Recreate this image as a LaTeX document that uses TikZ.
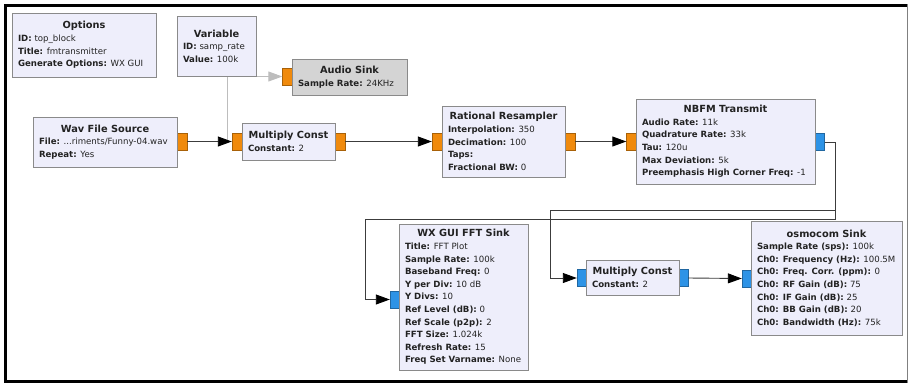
\documentclass[tikz,border=0pt]{standalone}
\usepackage{fontspec}
\setmainfont{DejaVu Sans}
\usetikzlibrary{arrows.meta}
\definecolor{blkfill}{HTML}{EEEEFB}
\definecolor{blkdraw}{HTML}{8A8A8A}
\definecolor{dblkfill}{HTML}{D4D4D4}
\definecolor{fport}{HTML}{F08A0C}
\definecolor{cport}{HTML}{2D93E6}
\definecolor{wire}{HTML}{3C3C3C}
\definecolor{dwire}{HTML}{BDBDBD}
\definecolor{txt}{HTML}{222222}
\newcommand{\bodyfont}{\fontsize{8.6}{12.6}\selectfont}
\newcommand{\titlefont}{\bfseries\fontsize{9.8}{12}\selectfont}
\newcommand{\kv}[2]{\textbf{#1:} #2}
\newcommand{\grcblk}[7]{\node[#1, minimum width=#4pt, minimum height=#5pt] (#2) at (#3) {\makebox[\dimexpr#4pt-12pt\relax]{\titlefont #6}\\#7};}
\tikzset{
  block/.style={draw=blkdraw, fill=blkfill, line width=0.8pt, inner xsep=6pt, inner ysep=0pt, align=left, font=\bodyfont, text=txt},
  dblock/.style={block, fill=dblkfill},
  fportbox/.style={draw=fport!70!black, line width=0.4pt, fill=fport, minimum width=10pt, minimum height=17pt, inner sep=0pt},
  cportbox/.style={draw=cport!70!black, line width=0.4pt, fill=cport, minimum width=9pt, minimum height=17pt, inner sep=0pt},
  wireline/.style={draw=wire, line width=0.9pt, -{Triangle[length=14pt,width=10pt,color=black]}},
  dwireline/.style={draw=dwire, line width=0.9pt, -{Triangle[length=14pt,width=10pt]}}
}
\begin{document}
\begin{tikzpicture}[x=1pt,y=-1pt]
\useasboundingbox (0,0) rectangle (909,383);
% frame
\draw[line width=3pt] (907,5.5) -- (5.5,5.5) -- (5.5,381) -- (907,381);
\draw[gray, line width=1.5pt] (907.5,4) -- (907.5,382.5);

\coordinate (bendA) at (835,210);
\coordinate (bendB) at (550,210);
\coordinate (bendC) at (835,219);
\coordinate (bendD) at (365,219);

% ports
\node[fportbox] (audin) at (287.5,76.5) {};
\node[fportbox] (wavout) at (182,141.5) {};
\node[fportbox] (m1in) at (237,141.5) {};
\node[fportbox] (m1out) at (340,141.5) {};
\node[fportbox] (rrin) at (437,141.5) {};
\node[fportbox] (rrout) at (570,141.5) {};
\node[fportbox] (nbin) at (631.5,141.5) {};
\node[cportbox] (nbout) at (820,142) {};
\node[cportbox] (fftin) at (394.5,299.5) {};
\node[cportbox] (m2in) at (581.5,278) {};
\node[cportbox] (m2out) at (683.5,278) {};
\node[cportbox] (osin) at (746.5,278.5) {};

\draw[dwireline] (wavout.east) -- ++(40,0) |- (audin.west);
\draw[wireline] (wavout.east) -- (m1in.west);
\draw[wireline] (m1out.east) -- (rrin.west);
\draw[wireline] (rrout.east) -- (nbin.west);
\draw[wireline] (nbout.east) -| (bendA) -- (bendB) |- (m2in.west);
\draw[wireline] (nbout.east) -| (bendC) -- (bendD) |- (fftin.west);
\draw[wireline] (m2out.east) -- (osin.west);

% blocks
\grcblk{block}{options}{84,45}{144}{64}{Options}{\kv{ID}{top\_block}\\\kv{Title}{fmtransmitter}\\\kv{Generate Options}{WX GUI}}
\grcblk{block}{variable}{216.5,46}{79}{60}{Variable}{\kv{ID}{samp\_rate}\\\kv{Value}{100k}}
\grcblk{dblock}{audiosink}{349.5,77}{115}{36}{Audio Sink}{\kv{Sample Rate}{24KHz}}
\grcblk{block}{wavsrc}{105,142}{144}{50}{Wav File Source}{\kv{File}{...riments/Funny-04.wav}\\\kv{Repeat}{Yes}}
\grcblk{block}{mulone}{288.5,141.5}{93}{37}{Multiply Const}{\kv{Constant}{2}}
\grcblk{block}{resamp}{503.5,141.5}{123}{71}{Rational Resampler}{\kv{Interpolation}{350}\\\kv{Decimation}{100}\\\textbf{Taps:}\\\kv{Fractional BW}{0}}
\grcblk{block}{nbfm}{725.5,141.5}{179}{85}{NBFM Transmit}{\kv{Audio Rate}{11k}\\\kv{Quadrature Rate}{33k}\\\kv{Tau}{120u}\\\kv{Max Deviation}{5k}\\\kv{Preemphasis High Corner Freq}{-1}}
\grcblk{block}{fftsink}{463.5,297}{129}{146}{WX GUI FFT Sink}{\kv{Title}{FFT Plot}\\\kv{Sample Rate}{100k}\\\kv{Baseband Freq}{0}\\\kv{Y per Div}{10 dB}\\\kv{Y Divs}{10}\\\kv{Ref Level (dB)}{0}\\\kv{Ref Scale (p2p)}{2}\\\kv{FFT Size}{1.024k}\\\kv{Refresh Rate}{15}\\\kv{Freq Set Varname}{None}}
\grcblk{block}{multwo}{632.5,277.5}{93}{35}{Multiply Const}{\kv{Constant}{2}}
\grcblk{block}{osmo}{826.5,278}{151}{114}{osmocom Sink}{\kv{Sample Rate (sps)}{100k}\\\kv{Ch0: Frequency (Hz)}{100.5M}\\\kv{Ch0: Freq. Corr. (ppm)}{0}\\\kv{Ch0: RF Gain (dB)}{75}\\\kv{Ch0: IF Gain (dB)}{25}\\\kv{Ch0: BB Gain (dB)}{20}\\\kv{Ch0: Bandwidth (Hz)}{75k}}
\end{tikzpicture}
\end{document}
